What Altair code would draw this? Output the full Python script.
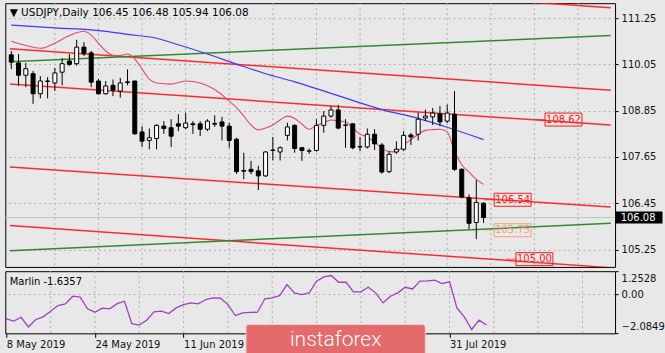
import altair as alt
import pandas as pd

# ---------------- data (bar index 0 = 8 May 2019, daily bars) ----------------
opens = [110.30, 110.09, 109.77, 109.81, 109.29, 109.61, 109.57, 109.85, 110.14, 110.07,
         110.50, 110.35, 109.62, 109.29, 109.51, 109.36, 109.58, 109.62, 108.30, 108.08,
         108.13, 108.45, 108.41, 108.51, 108.41, 108.51, 108.51, 108.37, 108.50, 108.56,
         108.45, 108.11, 107.28, 107.33, 107.29, 107.16, 107.82, 107.78, 108.21, 108.47,
         107.89, 107.80, 107.82, 108.47, 108.71, 108.87, 108.47, 108.51, 107.91, 107.91,
         108.24, 107.96, 107.27, 107.78, 107.85, 108.22, 108.24, 108.66, 108.69, 108.77,
         108.58, 108.76, 107.33, 106.59, 105.95, 106.45]
highs = [110.40, 110.32, 110.09, 109.88, 109.75, 109.72, 109.96, 110.21, 110.32, 110.69,
         110.63, 110.40, 109.67, 109.62, 109.66, 109.70, 109.92, 109.63, 108.45, 108.39,
         108.50, 108.58, 108.63, 108.76, 108.80, 108.58, 108.58, 108.63, 108.73, 108.69,
         108.54, 108.15, 107.76, 107.55, 107.42, 107.80, 108.17, 107.93, 108.54, 108.50,
         107.90, 107.87, 108.63, 108.84, 108.97, 109.00, 108.63, 108.52, 108.17, 108.39,
         108.37, 108.01, 107.80, 108.06, 108.32, 108.27, 108.80, 108.88, 108.92, 108.97,
         109.01, 109.36, 107.36, 106.68, 107.05, 106.48]
lows = [109.93, 109.49, 109.46, 109.03, 109.17, 109.17, 109.36, 109.51, 110.01, 110.02,
        110.27, 109.46, 109.27, 109.27, 109.23, 109.19, 109.51, 108.23, 107.91, 107.85,
        107.85, 108.25, 107.91, 108.32, 108.37, 108.25, 108.19, 108.32, 108.43, 108.08,
        107.89, 107.21, 107.07, 107.20, 106.79, 107.13, 107.56, 107.56, 108.08, 107.76,
        107.55, 107.73, 107.79, 108.28, 108.67, 108.37, 107.89, 107.85, 107.80, 107.87,
        107.83, 107.22, 107.23, 107.73, 107.80, 107.96, 108.08, 108.58, 108.48, 108.45,
        108.53, 107.29, 106.58, 105.78, 105.52, 105.94]
closes = [110.11, 109.77, 109.94, 109.29, 109.62, 109.62, 109.83, 110.07, 110.05, 110.50,
          110.33, 109.59, 109.29, 109.49, 109.38, 109.57, 109.60, 108.25, 108.06, 108.15,
          108.47, 108.39, 108.19, 108.45, 108.53, 108.49, 108.37, 108.58, 108.52, 108.45,
          108.08, 107.27, 107.30, 107.27, 107.16, 107.78, 107.83, 107.89, 108.43, 107.87,
          107.82, 107.81, 108.47, 108.71, 108.87, 108.40, 108.48, 107.89, 107.92, 108.24,
          107.99, 107.26, 107.72, 107.85, 108.21, 108.17, 108.63, 108.71, 108.79, 108.56,
          108.79, 107.33, 106.61, 105.93, 106.47, 106.08]

blue_idx = [0, 6, 13, 16, 20, 23, 27, 31, 35, 39, 44, 51, 56, 60, 65]
blue_val = [111.07, 111.00, 110.91, 110.83, 110.73, 110.56, 110.32, 110.06, 109.81, 109.60,
            109.30, 108.88, 108.65, 108.42, 108.10]

pink_idx = [0, 2, 4, 6, 8, 10, 11, 12, 13, 14, 15, 16, 17, 18, 19, 20, 22, 24, 26, 28,
            30, 31, 32, 33, 34, 35, 36, 37, 38, 39, 40, 41, 42, 43, 44, 45, 46, 47, 48, 49,
            50, 51, 52, 53, 54, 55, 56, 57, 58, 59, 60, 61, 62, 63, 64, 65]
pink_val = [110.65, 110.54, 110.47, 110.60, 110.80, 110.91, 110.81, 110.60, 110.40, 110.29,
            110.28, 110.32, 110.19, 109.93, 109.67, 109.57, 109.54, 109.62, 109.57, 109.40,
            109.10, 108.93, 108.71, 108.48, 108.35, 108.40, 108.48, 108.61, 108.71, 108.65,
            108.50, 108.37, 108.47, 108.54, 108.61, 108.59, 108.56, 108.41, 108.24, 108.17,
            108.04, 107.88, 107.79, 107.78, 107.96, 108.10, 108.24, 108.34, 108.36, 108.37,
            108.30, 107.80, 107.45, 107.26, 107.07, 106.94]

# trend lines: price at the left and right end of the window
line_names = ["R1", "R2", "R3", "R4", "R5", "G1", "G2"]
line_left = [112.60, 110.46, 109.54, 107.39, 105.87, 110.12, 105.22]
line_right = [111.52, 109.38, 108.48, 106.35, 104.78, 110.80, 105.93]
line_colors = ["#ff2b2b", "#ff2b2b", "#ff2b2b", "#ff2b2b", "#ff2b2b", "#2f8a2f", "#2f8a2f"]
line_ends = [-0.2, 82.5]

# price labels
label_vals = [108.62, 106.54, 105.75, 105.00]
label_idx = [76, 69, 69, 72]
label_cols = ["#ff1a1a", "#ff1a1a", "#f4a07a", "#ff1a1a"]

# Marlin indicator
marlin = [-1.31, -1.43, -1.22, -1.74, -1.34, -1.20, -0.90, -0.59, -0.50, -0.09,
          -0.14, -0.77, -0.95, -0.73, -0.77, -0.49, -0.36, -1.57, -1.64, -1.38,
          -0.93, -0.89, -1.02, -0.72, -0.54, -0.45, -0.50, -0.27, -0.18, -0.20,
          -0.54, -1.13, -0.98, -0.96, -0.95, -0.23, -0.18, -0.06, 0.53, 0.09,
          0.00, 0.09, 0.72, 0.95, 1.02, 0.66, 0.66, 0.14, 0.14, 0.39,
          0.09, -0.45, -0.09, 0.09, 0.39, 0.30, 0.72, 0.73, 0.77, 0.59,
          0.68, -0.72, -1.20, -1.88, -1.38, -1.6357]

tick_idx = [0, 12, 24, 60]
tick_txt = ["8 May 2019", "24 May 2019", "11 Jun 2019", "31 Jul 2019"]
grid_idx = [6, 12, 18, 24, 30, 36, 42, 48, 54, 60, 66, 72, 78]
price_ticks = [105.25, 106.45, 107.65, 108.85, 110.05, 111.25]
marlin_ticks = [-2.0849, 0.0, 1.2528]
marlin_zero = [0.0]

x_dom = [-0.135, 82.41]
y_dom = [104.799, 111.639]
m_dom = [-2.0849, 1.2528]

W = 610.4
FONT = "DejaVu Sans"

# ---------------- frames ----------------
n = len(opens)
candles = pd.DataFrame({"i": list(range(n)), "o": opens, "h": highs, "l": lows, "c": closes})
blue = pd.DataFrame({"i": blue_idx, "v": blue_val})
pink = pd.DataFrame({"i": pink_idx, "v": pink_val})
rows = []
for name, a, b, col in zip(line_names, line_left, line_right, line_colors):
    rows.append({"name": name, "i": line_ends[0], "v": a, "col": col})
    rows.append({"name": name, "i": line_ends[1], "v": b, "col": col})
tlines = pd.DataFrame(rows)
labels = pd.DataFrame({"i": label_idx, "v": label_vals, "col": label_cols,
                       "t": [f"{v:.2f}" for v in label_vals]})
grid = pd.DataFrame({"i": grid_idx})
last = pd.DataFrame({"c": [closes[-1]], "t": [f"{closes[-1]:.2f}"]})
ind = pd.DataFrame({"i": list(range(n)), "m": marlin})
zero = pd.DataFrame({"m": marlin_zero})

xs = alt.Scale(domain=x_dom, nice=False, zero=False)
ys = alt.Scale(domain=y_dom, nice=False, zero=False)
ms = alt.Scale(domain=m_dom, nice=False, zero=False)

X_main = alt.X("i:Q", scale=xs, axis=None)
y_axis = alt.Axis(orient="right", values=price_ticks, format=".2f", title=None,
                  grid=True, gridDash=[2, 3], gridColor="#b0b0b0", tickSize=3, labelPadding=3)


def Y(field):
    return alt.Y(field, scale=ys, axis=y_axis)


vgrid = alt.Chart(grid).mark_rule(color="#b0b0b0", strokeDash=[2, 3], strokeWidth=1).encode(x=X_main)
bid = alt.Chart(last).mark_rule(color="#c4c4c4", strokeWidth=1).encode(y=Y("c:Q"))
trend = alt.Chart(tlines).mark_line(clip=True, strokeWidth=1.5).encode(
    x=X_main, y=Y("v:Q"), detail="name:N", color=alt.Color("col:N", scale=None))
blue_l = alt.Chart(blue).mark_line(color="#3b3bff", strokeWidth=1.2, interpolate="monotone").encode(
    x=X_main, y=Y("v:Q"))
pink_l = alt.Chart(pink).mark_line(color="#e5486a", strokeWidth=1.1, interpolate="monotone").encode(
    x=X_main, y=Y("v:Q"))
wicks = alt.Chart(candles).mark_rule(color="#000", strokeWidth=1).encode(
    x=X_main, y=Y("l:Q"), y2="h:Q")
bodies = alt.Chart(candles).transform_calculate(
    f="datum.c >= datum.o ? 'white' : 'black'"
).mark_bar(size=4, stroke="#000", strokeWidth=1).encode(
    x=X_main, y=Y("o:Q"), y2="c:Q", fill=alt.Fill("f:N", scale=None))
lab_tick = alt.Chart(labels).mark_tick(orient="horizontal", size=10, thickness=1, xOffset=-23).encode(
    x=X_main, y=Y("v:Q"), color=alt.Color("col:N", scale=None))
lab_box = alt.Chart(labels).mark_rect(width=37, height=13, fillOpacity=0, strokeWidth=1).encode(
    x=X_main, y=Y("v:Q"), stroke=alt.Stroke("col:N", scale=None))
lab_txt = alt.Chart(labels).mark_text(font=FONT, fontSize=10, align="center", baseline="middle").encode(
    x=X_main, y=Y("v:Q"), text="t:N", color=alt.Color("col:N", scale=None))
title = alt.Chart(last).mark_text(font=FONT, fontSize=10.5, align="left", baseline="middle",
                                  color="#000").encode(
    x=alt.value(4.4), y=alt.value(9.7),
    text=alt.value(f"▼ USDJPY,Daily {opens[-1]:.2f} {highs[-1]:.2f} {lows[-1]:.2f} {closes[-1]:.2f}"))
pbox = alt.Chart(last).mark_rect(clip=False, height=12, color="#000").encode(
    x=alt.value(W + 0.6), x2=alt.value(W + 47.5), y=Y("c:Q"))
ptxt = alt.Chart(last).mark_text(clip=False, font=FONT, fontSize=10, align="left", baseline="middle",
                                 color="#fff").encode(
    x=alt.value(W + 5.6), y=Y("c:Q"), text="t:N")

main = alt.layer(vgrid, bid, trend, blue_l, pink_l, wicks, bodies, lab_tick, lab_box, lab_txt,
                 title, pbox, ptxt).properties(width=W, height=264)

# ---------------- indicator panel ----------------
label_expr = ""
for v, t in zip(tick_idx, tick_txt):
    label_expr += f"datum.value == {v} ? '{t}' : "
label_expr += "''"
X_ind = alt.X("i:Q", scale=xs, axis=alt.Axis(values=tick_idx, labelExpr=label_expr, title=None,
                                             labelAlign="left", tickSize=4, labelPadding=2,
                                             grid=False, labelOverlap=False, labelFlush=False))
m_axis = alt.Axis(orient="right", values=marlin_ticks, title=None, grid=False, tickSize=3,
                  labelPadding=3, labelFlush=True, labelFlushOffset=-2,
                  labelExpr="datum.value == 0 ? '0.00' : format(datum.value, '.4f')")


def M(field):
    return alt.Y(field, scale=ms, axis=m_axis)


vgrid2 = alt.Chart(grid).mark_rule(color="#b0b0b0", strokeDash=[2, 3], strokeWidth=1).encode(x=X_ind)
zline = alt.Chart(zero).mark_rule(color="#b0b0b0", strokeDash=[2, 3], strokeWidth=1).encode(y=M("m:Q"))
mline = alt.Chart(ind).mark_line(color="#a23fbf", strokeWidth=1.3).encode(x=X_ind, y=M("m:Q"))
mtitle = alt.Chart(last).mark_text(font=FONT, fontSize=10, align="left", baseline="middle",
                                   color="#000").encode(
    x=alt.value(4.4), y=alt.value(10.7), text=alt.value(f"Marlin {marlin[-1]:.4f}"))
wm_box = alt.Chart(last).mark_rect(clip=False, color="#e46a6b", cornerRadius=3, stroke="#f6c8c8",
                                   strokeWidth=1).encode(
    x=alt.value(241), x2=alt.value(420.4), y=alt.value(53.4), y2=alt.value(86))
wm_txt = alt.Chart(last).mark_text(clip=False, font="Roboto", fontWeight=300, fontSize=21,
                                   align="center", baseline="middle", color="#ffffff").encode(
    x=alt.value(330.7), y=alt.value(68.6), text=alt.value("instaforex"))

panel = alt.layer(vgrid2, zline, mline, mtitle, wm_box, wm_txt).properties(width=W, height=62.2)

chart = alt.vconcat(main, panel, spacing=2.3).properties(
    padding={"left": 2.3, "top": 2, "right": 0, "bottom": 0},
    background="#e8e8e8",
).configure_view(stroke="#000", strokeWidth=1).configure_axis(
    labelFont=FONT, labelFontSize=10, labelColor="#111", tickColor="#000", domain=False
)

chart.save("out.html", embed_options={"renderer": "svg", "actions": False})
